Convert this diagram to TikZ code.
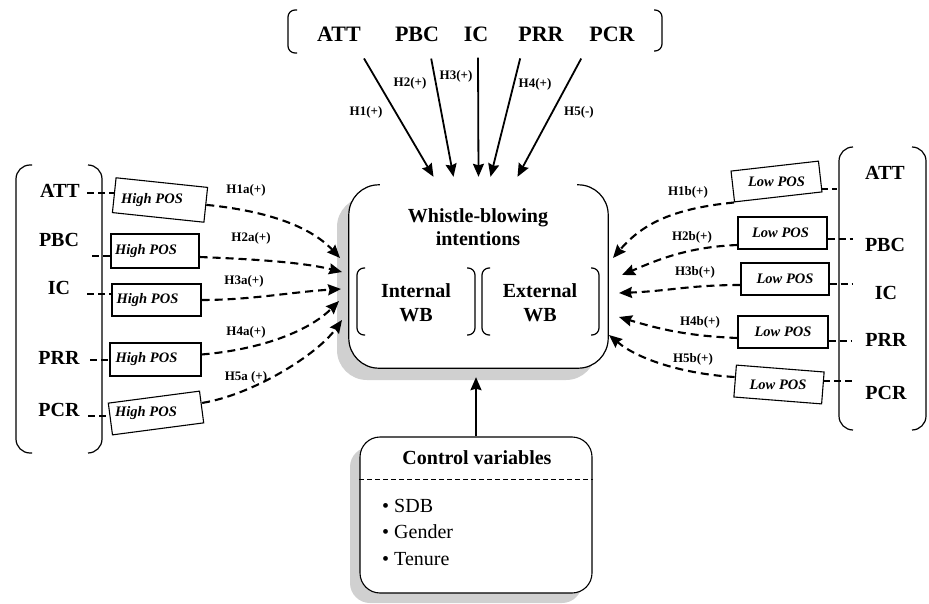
\documentclass[tikz,border=0pt]{standalone}
\usepackage{fontspec}
\setmainfont{Liberation Serif}
\usetikzlibrary{positioning,arrows.meta,calc,shadows}

\definecolor{shadowgray}{RGB}{208,208,208}

\tikzset{
  topvar/.style={font=\fontsize{22}{24}\selectfont\bfseries, inner sep=0pt},
  sidevar/.style={font=\fontsize{20}{24}\selectfont\bfseries, inner sep=0pt},
  wbtext/.style={font=\fontsize{20}{24}\selectfont\bfseries, inner sep=0pt, align=center},
  itemtext/.style={font=\fontsize{20}{24}\selectfont, inner sep=0pt, anchor=base west},
  hyp/.style={font=\fontsize{13}{15}\selectfont\bfseries, inner sep=0pt},
  posframe/.style={draw, line width=1.1pt, minimum width=90pt, minimum height=33pt, inner sep=0pt},
  postext/.style={font=\fontsize{14.5}{16}\selectfont\bfseries\itshape, inner sep=0pt},
  brack/.style={line width=1.2pt, rounded corners=#1}, brack/.default=7pt,
  solidarr/.style={line width=1.8pt, -{Stealth[length=13pt,width=11pt,inset=1.5pt]}},
  dasharr/.style={line width=2.1pt, dash pattern=on 8pt off 5pt, -{Stealth[length=13pt,width=11pt,inset=1.5pt]}},
  stub/.style={line width=1.6pt, dash pattern=on 7pt off 4pt},
}

\begin{document}
\begin{tikzpicture}[x=1pt, y=-1pt]
    \useasboundingbox (0,0) rectangle (929,604);

    % outcome box
    \node[fill=white, minimum width=259pt, minimum height=183pt, inner sep=0pt, rounded corners=30pt,
          drop shadow={shadow xshift=-12pt, shadow yshift=-12pt, fill=shadowgray, opacity=1}] (main) at (478.5,276.5) {};
    \draw[brack=30pt] ($(main.north west)+(31,0)$) -- (main.north west) -- (main.south west) -- (main.south east) -- (main.north east) -- ($(main.north east)+(-31,0)$);
    \node[wbtext, font=\fontsize{20}{23}\selectfont\bfseries] (wbtitle) at (478,227) {Whistle-blowing\\intentions};
    \node[wbtext] (intwb) at (416,303) {Internal\\WB};
    \node[wbtext] (extwb) at (540,303) {External\\WB};
    \draw[brack] (365,268) -- (357,268) -- (357,335) -- (365,335);
    \draw[brack] (467,268) -- (475,268) -- (475,335) -- (467,335);
    \draw[brack] (490,268) -- (482,268) -- (482,335) -- (490,335);
    \draw[brack] (591,268) -- (599,268) -- (599,335) -- (591,335);

    % control variables
    \node[draw, line width=1.1pt, fill=white, minimum width=232pt, minimum height=156pt, rounded corners=20pt,
          drop shadow={shadow xshift=-10pt, shadow yshift=-10pt, fill=shadowgray, opacity=1}] (ctrl) at (476,515) {};
    \node[sidevar] (ctrltitle) at ($(ctrl.north)+(1,21)$) {Control variables};
    \draw[line width=1pt, dash pattern=on 5pt off 3pt] ($(ctrl.north west)+(0,43)$) -- ($(ctrl.north east)+(0,43)$);
    \node[itemtext] (item1) at (382,512) {\textbullet\ SDB};
    \node[itemtext] (item2) at (382,538) {\textbullet\ Gender};
    \node[itemtext] (item3) at (382,565) {\textbullet\ Tenure};
    \draw[solidarr, shorten >=9pt] (ctrl.north) -- (ctrl.north |- main.south);

    % direct effects
    \draw[brack] (297,10) -- (288,10) -- (288,53) -- (297,53);
    \draw[brack] (654,10) -- (662,10) -- (662,51) -- (654,51);
    \node[topvar] (tATT) at (339,34) {ATT};
    \node[topvar] (tPBC) at (417,34) {PBC};
    \node[topvar] (tIC) at (476,34) {IC};
    \node[topvar] (tPRR) at (541,34) {PRR};
    \node[topvar] (tPCR) at (612,34) {PCR};
    \coordinate (w1) at ($(main.north)+(-45,-8)$);
    \coordinate (w2) at ($(main.north)+(-25,-8)$);
    \coordinate (w3) at ($(main.north)+(0,-8)$);
    \coordinate (w4) at ($(main.north)+(12,-8)$);
    \coordinate (w5) at ($(main.north)+(39,-8)$);
    \draw[solidarr] ([shift={(3pt,-17pt)}]tATT.south east) -- (w1);
    \draw[solidarr] ([shift={(-8pt,-17pt)}]tPBC.south east) -- (w2);
    \draw[solidarr] ([shift={(2pt,-16pt)}]tIC.south) -- (w3);
    \draw[solidarr] ([shift={(2pt,-17pt)}]tPRR.south west) -- (w4);
    \draw[solidarr] ([shift={(-8pt,-17pt)}]tPCR.south west) -- (w5);
    \node[hyp] (h1) at (366,112) {H1(+)};
    \node[hyp] (h2) at (410,83) {H2(+)};
    \node[hyp] (h3) at (456,76) {H3(+)};
    \node[hyp] (h4) at (535,84) {H4(+)};
    \node[hyp] (h5) at (579,112) {H5(-)};

    % high POS side
    \draw[brack=14pt] (32,165) -- (16,165) -- (16,453) -- (32,453);
    \draw[brack=14pt] (88,165) -- (102,165) -- (102,453) -- (88,453);
    \node[sidevar] (lATT) at (60,191) {ATT};
    \node[sidevar] (lPBC) at (59,240) {PBC};
    \node[sidevar] (lIC) at (59,288) {IC};
    \node[sidevar] (lPRR) at (59,358) {PRR};
    \node[sidevar] (lPCR) at (59,410) {PCR};
    \node[posframe, minimum width=92pt, minimum height=35pt, rotate=-6] (hp1) at (160,200) {};
    \node[posframe, minimum width=88pt, minimum height=34pt] (hp2) at (155,251) {};
    \node[posframe, minimum width=89pt, minimum height=32pt] (hp3) at (156.5,300) {};
    \node[posframe, minimum width=91pt, minimum height=33pt] (hp4) at (155.5,359.5) {};
    \node[posframe, minimum width=92pt, minimum height=32pt, rotate=7.5] (hp5) at (156,413) {};
    \node[postext] (hpt1) at ([xshift=-8pt]hp1.center) {High POS};
    \node[postext] (hpt2) at ([xshift=-9pt]hp2.center) {High POS};
    \node[postext] (hpt3) at ([xshift=-9pt]hp3.center) {High POS};
    \node[postext] (hpt4) at ([xshift=-9pt]hp4.center) {High POS};
    \node[postext] (hpt5) at ([xshift=-10pt]hp5.center) {High POS};
    \coordinate (sl1) at (87,193);
    \coordinate (sl2) at (92,256);
    \coordinate (sl3) at (87,294);
    \coordinate (sl4) at (90,360);
    \coordinate (sl5) at (88,416);
    \draw[stub] (sl1) -- (sl1 -| hp1.west);
    \draw[stub] (sl2) -- (sl2 -| hp2.west);
    \draw[stub] (sl3) -- (sl3 -| hp3.west);
    \draw[stub] (sl4) -- (sl4 -| hp4.west);
    \draw[stub] (sl5) -- (sl5 -| hp5.west);
    \coordinate (el1) at (340,258);
    \coordinate (el2) at (342,272);
    \coordinate (el3) at (341,289);
    \coordinate (el4) at (339,301);
    \coordinate (el5) at (342,320);
    \draw[dasharr] (hp1.east) .. controls +(60,6) and +(-30,-32) .. (el1);
    \draw[dasharr] ([yshift=-6pt]hp2.east) .. controls +(50,2) and +(-40,-10) .. (el2);
    \draw[dasharr] (hp3.east) .. controls +(50,0) and +(-50,3) .. (el3);
    \draw[dasharr] ([yshift=5pt]hp4.east) .. controls +(60,-5) and +(-30,30) .. (el4);
    \draw[dasharr] ([yshift=4pt]hp5.east) .. controls +(50,-8) and +(-25,35) .. (el5);
    \node[hyp] (h1a) at (246,190) {H1a(+)};
    \node[hyp] (h2a) at (251,238) {H2a(+)};
    \node[hyp] (h3a) at (244,281) {H3a(+)};
    \node[hyp] (h4a) at (246,332) {H4a(+)};
    \node[hyp] (h5a) at (246,377) {H5a (+)};

    % low POS side
    \draw[brack=14pt] (853,147) -- (839,147) -- (839,430) -- (853,430);
    \draw[brack=14pt] (912,147) -- (926,147) -- (926,430) -- (912,430);
    \node[sidevar] (rATT) at (885,173) {ATT};
    \node[sidevar] (rPBC) at (885,245) {PBC};
    \node[sidevar] (rIC) at (886,293) {IC};
    \node[sidevar] (rPRR) at (886,340) {PRR};
    \node[sidevar] (rPCR) at (886,393) {PCR};
    \node[posframe, minimum width=88pt, minimum height=31pt, rotate=6.5] (lp1) at (776.5,181.5) {};
    \node[posframe, minimum width=89pt, minimum height=32pt] (lp2) at (782.5,233) {};
    \node[posframe, minimum width=88pt, minimum height=32pt] (lp3) at (785,279) {};
    \node[posframe, minimum width=90pt, minimum height=32pt] (lp4) at (783,332) {};
    \node[posframe, minimum width=88pt, minimum height=32pt, rotate=-4.5] (lp5) at (779,384.5) {};
    \node[postext] (lpt1) at (lp1.center) {Low POS};
    \node[postext] (lpt2) at ([xshift=-2pt]lp2.center) {Low POS};
    \node[postext] (lpt3) at (lp3.center) {Low POS};
    \node[postext] (lpt4) at (lp4.center) {Low POS};
    \node[postext] (lpt5) at ([xshift=-1pt]lp5.center) {Low POS};
    \coordinate (sr1) at (837,189);
    \coordinate (sr2) at (853,239);
    \coordinate (sr3) at (852,284);
    \coordinate (sr4) at (852,341);
    \coordinate (sr5) at (852,381);
    \draw[stub] (sr1 -| lp1.east) -- (sr1);
    \draw[stub] (sr2 -| lp2.east) -- (sr2);
    \draw[stub] (sr3 -| lp3.east) -- (sr3);
    \draw[stub] (sr4 -| lp4.east) -- (sr4);
    \draw[stub] (sr5 -| lp5.east) -- (sr5);
    \coordinate (er1) at (613,258);
    \coordinate (er2) at (622,275);
    \coordinate (er3) at (619,293);
    \coordinate (er4) at (619,317);
    \coordinate (er5) at (609,335);
    \draw[dasharr] (lp1.south west) .. controls +(-60,6) and +(30,-35) .. (er1);
    \draw[dasharr] ([yshift=-12pt]lp2.west) .. controls +(-50,2) and +(35,-15) .. (er2);
    \draw[dasharr] ([yshift=-6pt]lp3.west) .. controls +(-50,0) and +(50,-2) .. (er3);
    \draw[dasharr] ([yshift=-6pt]lp4.west) .. controls +(-50,-2) and +(40,12) .. (er4);
    \draw[dasharr] ([yshift=4pt]lp5.west) .. controls +(-50,-3) and +(30,25) .. (er5);
    \node[hyp] (h1b) at (688,192) {H1b(+)};
    \node[hyp] (h2b) at (692,237) {H2b(+)};
    \node[hyp] (h3b) at (695,272) {H3b(+)};
    \node[hyp] (h4b) at (700,322) {H4b(+)};
    \node[hyp] (h5b) at (693,359) {H5b(+)};
\end{tikzpicture}
\end{document}
